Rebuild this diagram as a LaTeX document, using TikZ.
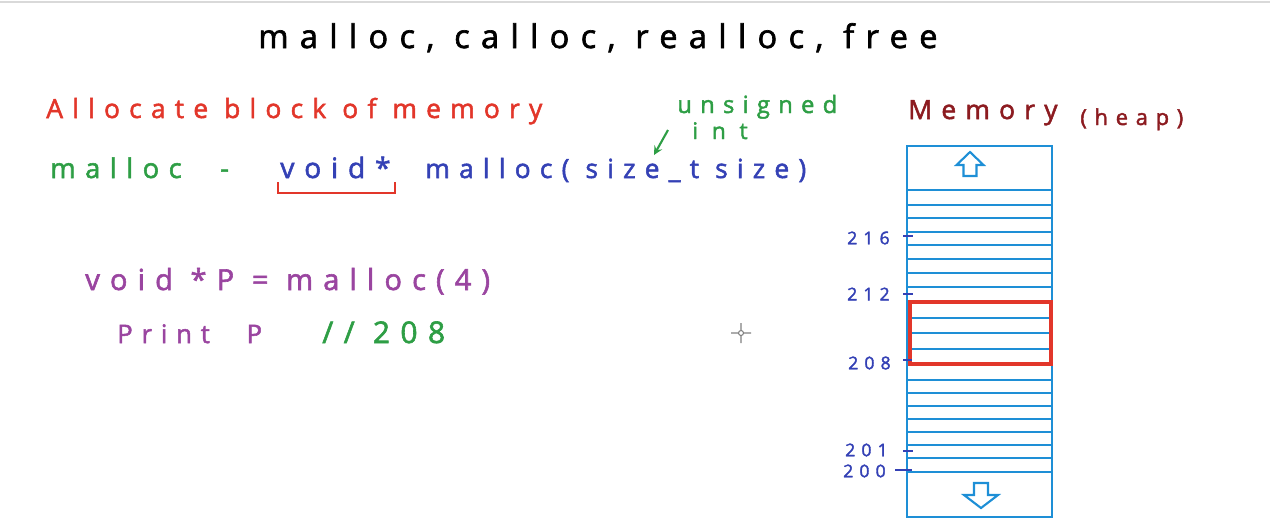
\documentclass[tikz,border=0pt]{standalone}
\usepackage{fontspec}
\newfontfamily\hand[LetterSpace=35, FakeBold=2]{Open Sans}
\newfontfamily\handwide[LetterSpace=60, FakeBold=2]{Open Sans}
\definecolor{memblue}{HTML}{1E8FD6}
\definecolor{penred}{HTML}{E2362A}
\definecolor{pengreen}{HTML}{2E9E45}
\definecolor{penblue}{HTML}{3441B5}
\definecolor{penpurple}{HTML}{9A45A0}
\definecolor{heapred}{HTML}{8C1B20}
\tikzset{
  txt/.style={anchor=base west, inner sep=0pt, font=\hand\fontsize{#1}{#1}\selectfont},
  addr/.style={anchor=east, inner sep=0pt, text=penblue, font=\hand\fontsize{10}{10}\selectfont},
  cell/.style={memblue, line width=1.4pt}
}
\begin{document}
\begin{tikzpicture}[x=0.02cm, y=-0.02cm, >=stealth]
    \useasboundingbox (0,0) rectangle (1270,525);
    \draw[gray!30, line width=0.8pt] (0,2) -- (1270,2);
    % 标题
    \node[txt=18.5] (title) at (258,48) {malloc, calloc, realloc, free};
    \node[txt=15, text=penred] (alloc) at (46,118) {Allocate block of memory};
    \node[txt=13.5, text=pengreen] (unsig) at (677,113) {unsigned};
    \node[txt=13, text=pengreen, font=\handwide\fontsize{13}{13}\selectfont] (int) at (692,139) {int};
    % 原型
    \node[txt=15.5, text=pengreen] (mname) at (50,178) {malloc\hspace{22pt}-};
    \node[txt=16, text=penblue] (void) at (280,178) {void*};
    \node[txt=15, text=penblue] (proto) at (425,178) {malloc( size\_t size)};
    \draw[penred, line width=1.2pt] (278,182) -- (278,193) -- (395,193) -- (395,182);
    \coordinate (argtail) at (668,130);
    \coordinate (argtip) at (654,155);
    \draw[pengreen, ->, line width=1.2pt] (argtail) -- (argtip);
    % 例子
    \node[txt=16.5, text=penpurple] (decl) at (85,290) {void *P = malloc(4)};
    \node[txt=14.5, text=penpurple] (print) at (117,343) {Print\hspace{21pt}P};
    \node[txt=17, text=pengreen] (cmt) at (322,343) {// 208};
    \draw[gray, line width=0.6pt] (741,333) circle (2.5) (741,323) -- (741,330) (741,336) -- (741,343)
        (731,333) -- (738,333) (744,333) -- (751,333);
    % 内存
    \node[txt=15, text=heapred] (mem) at (908,119) {Memory};
    \node[txt=12.5, text=heapred] (heap) at (1080,125) {(heap)};
    \draw[cell] (907,146) rectangle (1052,517);
    \foreach \y in {190,205,218,232,245,259,273,287,302,318,333,349,364,380,393,406,419,432,445,458,472}
        \draw[cell] (907,\y) -- (1052,\y);
    \draw[penred, line width=2.6pt] (910,302) rectangle (1051,364);
    \draw[memblue, line width=1.2pt] (970,152) -- (983.5,165) -- (976.5,165) -- (976.5,176) -- (963.5,176)
        -- (963.5,165) -- (956.5,165) -- cycle;
    \draw[memblue, line width=1.2pt] (981,508) -- (998,495) -- (988,495) -- (988,483) -- (974,483)
        -- (974,495) -- (964,495) -- cycle;
    \node[addr] (a216) at (890,238) {216};
    \node[addr] (a212) at (890,294) {212};
    \node[addr] (a208) at (891,363) {208};
    \node[addr] (a201) at (888,450) {201};
    \node[addr] (a200) at (886,471) {200};
    \draw[penblue, line width=1pt] (903,236) -- (913,236) (903,294) -- (913,294) (903,360) -- (912,360)
        (903,451) -- (913,451) (895,470) -- (912,470);
\end{tikzpicture}
\end{document}
